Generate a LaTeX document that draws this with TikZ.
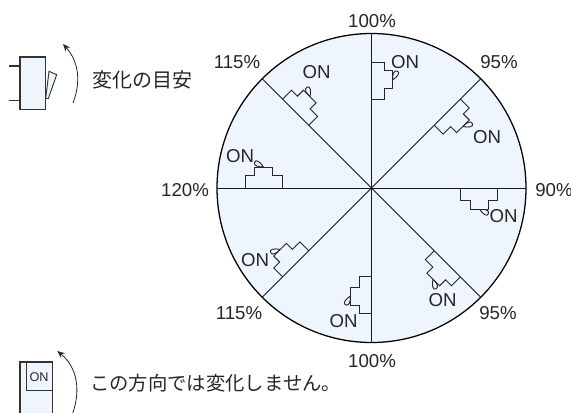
\documentclass[tikz,border=0pt]{standalone}
\usepackage{fontspec}
\setmainfont{Liberation Sans}
\newfontfamily\jpfont{Noto Sans CJK JP}
\usetikzlibrary{arrows.meta}
\definecolor{paleblue}{HTML}{EEF5FD}
\definecolor{inkgrey}{HTML}{333333}

\begin{document}
\begin{tikzpicture}[x=0.75pt, y=-0.75pt]
        \tikzset{
            lab/.style={inner sep=0pt, font=\fontsize{14}{14}\selectfont, text=black!85},
            jplab/.style={inner sep=0pt, anchor=west, font=\fontsize{14.5}{15}\selectfont\jpfont, text=black!85},
            bump/.style={draw=black!85, line width=0.7pt, fill=paleblue, line join=miter},
            turn/.style={draw=black!85, line width=0.6pt, -{Stealth[length=5.5pt, width=4.5pt]}},
            body/.style={draw=inkgrey, line width=1pt, fill=paleblue}
        }
        \clip (0, 0) rectangle (571, 412);

        \coordinate (C) at (371.5, 188);
        \def\r{154.5}

        \begin{scope}
            \filldraw[fill=paleblue, draw=black, line width=0.95pt] (C) circle [radius=\r];
            \foreach \i in {0,...,7} {
                \begin{scope}[shift={(C)}, rotate={-45*\i}]
                    \draw[bump] (21, -108) .. controls (21, -113) and (22, -118) .. (25.5, -117)
                        .. controls (29.5, -116) and (26, -111) .. (21, -108);
                    \draw[bump] (0, -125.7) -- (12.5, -125.7) -- (12.5, -117.3) -- (21, -117.3)
                        -- (21, -99.3) -- (12.5, -99.3) -- (12.5, -88.7) -- (0, -88.7);
                \end{scope}
            }
            \foreach \i in {0,...,7} {
                \draw[black!90, line width=0.75pt] (C) -- ++({45*\i}:{\r} and {-\r});
            }
        \end{scope}

        % ON marks
        \node[lab] (onN) at (405, 62) {ON};
        \node[lab] (onNE) at (487, 137) {ON};
        \node[lab] (onE) at (503.5, 216) {ON};
        \node[lab] (onSE) at (442.5, 300) {ON};
        \node[lab] (onS) at (343.5, 321.5) {ON};
        \node[lab] (onSW) at (255, 260) {ON};
        \node[lab] (onW) at (240, 156) {ON};
        \node[lab] (onNW) at (316.5, 72.5) {ON};

        % rim values
        \node[lab] (pN) at (372, 21) {100\%};
        \node[lab] (pNE) at (499, 62) {95\%};
        \node[lab] (pE) at (554, 190) {90\%};
        \node[lab] (pSE) at (498, 313) {95\%};
        \node[lab] (pS) at (372, 361) {100\%};
        \node[lab] (pSW) at (239, 313) {115\%};
        \node[lab] (pW) at (185, 190) {120\%};
        \node[lab] (pNW) at (237, 62.5) {115\%};

        % side switch
        \draw[body, line width=0.7pt] (45.7, 98.5) -- (49, 71.3) -- (56.7, 74.7) -- (48.3, 98.5) -- cycle;
        \draw[body] (20, 57) rectangle (45.7, 109.7);
        \draw[body] (9, 66) -- (20, 66);
        \draw[body] (9, 100.5) -- (20, 100.5);
        \coordinate (sideA) at (73, 103);
        \coordinate (sideB) at (63, 44);
        \draw[turn] (sideA) .. controls (81, 82) and (79, 62) .. (sideB);
        \node[jplab, font=\fontsize{15}{15}\selectfont\jpfont] (sideT) at (92, 80) {変化の目安};

        % front switch
        \draw[body] (20, 362) rectangle (52.3, 420);
        \draw[draw=inkgrey, line width=0.7pt] (26.3, 362) rectangle (52.3, 390.3);
        \node[lab, font=\fontsize{9.5}{10}\selectfont] (frontON) at (39, 377) {ON};
        \coordinate (frontA) at (72.7, 413);
        \coordinate (frontB) at (57.3, 351);
        \draw[turn] (frontA) .. controls (81, 390) and (77, 367) .. (frontB);
        \node[jplab] (frontT) at (90, 383.5) {この方向では変化しません。};
\end{tikzpicture}
\end{document}
